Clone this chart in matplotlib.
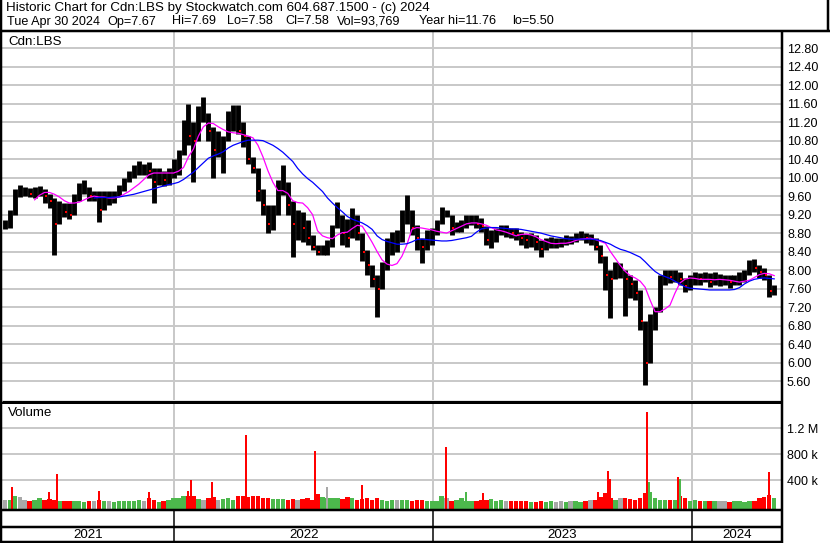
import matplotlib
matplotlib.use("Agg")
import matplotlib.pyplot as plt
from matplotlib.lines import Line2D
import numpy as np
import pandas as pd

plt.rcParams["font.family"] = ["Liberation Sans", "DejaVu Sans"]

W, H = 830, 543

# weekly bars (Fridays)
weeks = pd.date_range("2021-05-07", periods=156, freq="W-FRI")

high = [9.08, 9.30, 9.75, 9.84, 9.80, 9.78, 9.80, 9.82, 9.73, 9.65,
        9.55, 9.50, 9.45, 9.45, 9.65, 9.88, 9.95, 9.72, 9.70, 9.70,
        9.70, 9.70, 9.72, 9.85, 10.00, 10.15, 10.27, 10.36, 10.30, 10.33,
        10.20, 10.20, 10.15, 10.20, 10.40, 10.60, 11.25, 11.60, 11.20, 11.55,
        11.74, 11.40, 11.10, 11.00, 10.90, 11.45, 11.57, 11.57, 11.20, 10.80,
        10.45, 10.15, 9.75, 9.30, 9.40, 9.95, 10.27, 9.80, 9.50, 9.30,
        9.25, 9.08, 8.75, 8.55, 8.55, 8.65, 8.97, 9.47, 9.20, 9.10,
        9.35, 9.10, 8.76, 8.43, 8.10, 7.90, 8.17, 8.70, 8.82, 8.87,
        9.30, 9.62, 9.30, 8.97, 8.70, 8.87, 8.90, 9.08, 9.36, 9.30,
        9.08, 9.05, 9.08, 9.19, 9.19, 9.20, 9.12, 8.90, 8.87, 8.90,
        8.97, 8.97, 8.90, 8.90, 8.83, 8.78, 8.80, 8.76, 8.65, 8.70,
        8.72, 8.70, 8.70, 8.76, 8.74, 8.80, 8.84, 8.80, 8.78, 8.65,
        8.54, 8.28, 8.00, 8.17, 8.15, 8.00, 7.90, 7.78, 7.57, 6.90,
        7.05, 7.20, 7.90, 8.00, 8.00, 8.00, 7.95, 7.83, 7.89, 7.95,
        7.93, 7.95, 7.93, 7.95, 7.91, 7.89, 7.89, 7.89, 7.95, 8.00,
        8.22, 8.25, 8.10, 8.05, 7.89, 7.68]
low = [8.88, 8.90, 9.20, 9.58, 9.60, 9.58, 9.55, 9.60, 9.45, 9.35,
       8.33, 9.15, 9.15, 9.10, 9.35, 9.50, 9.65, 9.50, 9.50, 9.04,
       9.30, 9.40, 9.45, 9.60, 9.72, 9.90, 10.00, 10.05, 10.05, 10.00,
       9.45, 9.85, 9.82, 9.85, 10.00, 10.05, 10.60, 10.70, 9.90, 11.00,
       11.20, 10.80, 10.00, 10.45, 10.10, 10.90, 11.00, 10.95, 10.66, 10.30,
       10.10, 9.50, 9.20, 8.80, 8.87, 9.30, 9.62, 9.20, 8.28, 8.65,
       8.60, 8.55, 8.43, 8.32, 8.32, 8.32, 8.54, 8.90, 8.55, 8.50,
       8.85, 8.65, 8.20, 7.90, 7.63, 6.98, 7.68, 8.10, 8.32, 8.40,
       8.65, 9.00, 8.75, 8.43, 8.15, 8.43, 8.54, 8.76, 9.08, 9.15,
       8.76, 8.82, 8.82, 8.90, 8.97, 8.90, 8.82, 8.54, 8.47, 8.60,
       8.76, 8.72, 8.70, 8.65, 8.54, 8.47, 8.50, 8.43, 8.28, 8.43,
       8.47, 8.47, 8.50, 8.54, 8.56, 8.60, 8.65, 8.58, 8.54, 8.43,
       8.15, 7.57, 6.96, 7.85, 7.83, 7.00, 7.40, 7.35, 6.70, 5.51,
       6.40, 6.70, 7.14, 7.68, 7.72, 7.74, 7.68, 7.53, 7.57, 7.68,
       7.68, 7.74, 7.63, 7.68, 7.65, 7.68, 7.61, 7.68, 7.68, 7.74,
       7.89, 7.95, 7.83, 7.78, 7.42, 7.46]
close = [9.00, 9.25, 9.70, 9.70, 9.70, 9.65, 9.70, 9.75, 9.60, 9.50,
         9.00, 9.40, 9.25, 9.20, 9.55, 9.75, 9.80, 9.60, 9.60, 9.30,
         9.55, 9.55, 9.60, 9.80, 9.90, 10.05, 10.10, 10.20, 10.20, 10.15,
         9.90, 10.05, 9.95, 10.00, 10.25, 10.50, 11.10, 10.90, 10.80, 11.40,
         11.40, 11.00, 10.60, 10.60, 10.80, 11.20, 11.30, 11.00, 10.90, 10.40,
         10.20, 9.70, 9.40, 9.00, 9.20, 9.80, 9.90, 9.40, 9.00, 9.00,
         8.90, 8.70, 8.50, 8.40, 8.45, 8.50, 8.90, 9.10, 8.80, 8.70,
         9.20, 8.80, 8.40, 8.10, 7.80, 7.60, 8.00, 8.50, 8.60, 8.60,
         9.10, 9.30, 8.90, 8.70, 8.50, 8.70, 8.80, 9.00, 9.20, 9.20,
         8.90, 8.95, 9.00, 9.05, 9.10, 9.00, 8.95, 8.65, 8.70, 8.80,
         8.85, 8.85, 8.80, 8.75, 8.70, 8.65, 8.70, 8.60, 8.45, 8.55,
         8.60, 8.60, 8.60, 8.65, 8.65, 8.75, 8.80, 8.70, 8.70, 8.50,
         8.30, 7.90, 7.80, 8.00, 8.00, 7.80, 7.70, 7.50, 6.90, 6.00,
         6.90, 7.10, 7.70, 7.90, 7.85, 7.90, 7.80, 7.65, 7.70, 7.85,
         7.80, 7.85, 7.75, 7.80, 7.80, 7.80, 7.75, 7.80, 7.85, 7.90,
         8.10, 8.05, 7.95, 7.90, 7.55, 7.58]

nan = np.nan
ma_fast = [nan] * 6 + [
    9.52, 9.62, 9.68, 9.68, 9.64, 9.58, 9.50, 9.45, 9.45, 9.47,
    9.52, 9.57, 9.60, 9.58, 9.58, 9.56, 9.56, 9.58, 9.64, 9.70,
    9.78, 9.86, 9.96, 10.06, 10.10, 10.10, 10.10, 10.10, 10.10, 10.14,
    10.22, 10.45, 10.62, 10.90, 11.10, 11.18, 11.17, 11.10, 11.04, 10.99,
    10.97, 10.96, 10.93, 10.90, 10.86, 10.70, 10.45, 10.15, 9.90, 9.72,
    9.72, 9.66, 9.50, 9.46, 9.45, 9.35, 9.20, 8.85, 8.74, 8.70,
    8.68, 8.76, 8.81, 8.82, 8.90, 8.97, 8.95, 8.78, 8.60, 8.40,
    8.22, 8.13, 8.10, 8.14, 8.30, 8.55, 8.88, 8.92, 8.91, 8.89,
    8.87, 8.84, 8.82, 8.80, 8.85, 8.90, 8.95, 9.00, 9.02, 9.02,
    9.00, 8.97, 8.92, 8.87, 8.85, 8.82, 8.78, 8.74, 8.77, 8.78,
    8.76, 8.72, 8.66, 8.62, 8.58, 8.57, 8.58, 8.58, 8.60, 8.64,
    8.67, 8.68, 8.69, 8.66, 8.62, 8.58, 8.40, 8.25, 8.10, 7.97,
    7.88, 7.83, 7.76, 7.63, 7.35, 7.10, 7.10, 7.16, 7.24, 7.50,
    7.72, 7.80, 7.83, 7.82, 7.80, 7.80, 7.80, 7.79, 7.80, 7.79,
    7.78, 7.76, 7.74, 7.76, 7.78, 7.84, 7.90, 7.93, 7.92, 7.88]
ma_slow = [nan] * 18 + [
    9.56, 9.57, 9.57, 9.57, 9.58, 9.58, 9.60, 9.62, 9.64, 9.67,
    9.70, 9.73, 9.76, 9.79, 9.82, 9.85, 9.87, 9.90, 9.96, 10.04,
    10.12, 10.22, 10.32, 10.42, 10.47, 10.51, 10.56, 10.64, 10.70, 10.74,
    10.78, 10.81, 10.81, 10.81, 10.80, 10.75, 10.70, 10.63, 10.55, 10.45,
    10.35, 10.20, 10.08, 9.98, 9.90, 9.80, 9.70, 9.56, 9.45, 9.35,
    9.26, 9.16, 9.10, 9.06, 9.02, 8.96, 8.88, 8.74, 8.66, 8.62,
    8.59, 8.56, 8.56, 8.57, 8.61, 8.66, 8.67, 8.66, 8.65, 8.64,
    8.63, 8.63, 8.64, 8.66, 8.68, 8.70, 8.73, 8.82, 8.89, 8.91,
    8.92, 8.92, 8.91, 8.90, 8.89, 8.89, 8.88, 8.86, 8.84, 8.82,
    8.80, 8.77, 8.74, 8.72, 8.70, 8.68, 8.67, 8.67, 8.67, 8.67,
    8.67, 8.66, 8.64, 8.60, 8.56, 8.50, 8.45, 8.42, 8.38, 8.33,
    8.28, 8.18, 8.07, 7.97, 7.90, 7.86, 7.82, 7.76, 7.70, 7.64,
    7.61, 7.60, 7.59, 7.58, 7.57, 7.57, 7.57, 7.57, 7.57, 7.58,
    7.62, 7.70, 7.76, 7.80, 7.82, 7.83, 7.82, 7.81]

# typical daily volume per week (shares)
volume = np.array([
    90, 100, 160, 140, 90, 80, 100, 120, 90, 110,
    100, 70, 80, 70, 70, 80, 60, 80, 70, 100,
    80, 70, 60, 80, 70, 80, 70, 90, 80, 120,
    90, 60, 80, 90, 120, 130, 150, 150, 160, 110,
    100, 130, 140, 100, 110, 120, 100, 160, 150, 140,
    160, 150, 130, 120, 110, 110, 110, 100, 110, 100,
    110, 130, 100, 180, 140, 130, 120, 120, 110, 140,
    120, 100, 110, 130, 100, 120, 100, 80, 90, 90,
    90, 100, 80, 100, 90, 80, 70, 80, 150, 120,
    80, 90, 130, 80, 70, 80, 100, 90, 110, 80,
    90, 70, 80, 70, 80, 70, 60, 60, 70, 60,
    70, 60, 70, 60, 70, 70, 60, 70, 100, 90,
    140, 200, 120, 100, 120, 130, 110, 90, 120, 200,
    220, 120, 100, 90, 100, 100, 160, 130, 80, 90,
    80, 80, 70, 70, 70, 80, 60, 70, 70, 60,
    80, 80, 130, 140, 170, 120]) * 1000

# single-day volume spikes
spike_dates = pd.to_datetime([
    "2021-05-17", "2021-07-08", "2021-07-19", "2021-09-17", "2021-11-26",
    "2022-01-20", "2022-01-24", "2022-02-23", "2022-04-12", "2022-07-19",
    "2022-08-05", "2022-09-23", "2023-01-19", "2023-02-16", "2023-03-13",
    "2023-08-22", "2023-09-05", "2023-09-07", "2023-10-30", "2023-11-02",
    "2023-12-12", "2023-12-15", "2024-04-19"])
spike_vols = np.array([
    290, 215, 490, 230, 215,
    230, 400, 370, 1090, 846,
    300, 320, 910, 215, 200,
    215, 540, 420, 1450, 370,
    450, 420, 520]) * 1000
spike_dirs = ["d", "d", "d", "d", "d",
              "d", "d", "d", "d", "d",
              "n", "d", "d", "u", "d",
              "d", "d", "d", "d", "u",
              "d", "u", "d"]

price_ticks = np.arange(5.6, 12.81, 0.4)
vol_ticks = [400000, 800000, 1200000]
vol_labels = ["400 k", "800 k", "1.2 M"]
years = ["2021", "2022", "2023", "2024"]
year_starts = pd.to_datetime(["2022-01-01", "2023-01-01", "2024-01-01"])

title_line = "Historic Chart for Cdn:LBS by Stockwatch.com 604.687.1500 - (c) 2024"
quote_items = ["Tue Apr 30 2024", "Op=7.67", "Hi=7.69", "Lo=7.58", "Cl=7.58",
               "Vol=93,769", "Year hi=11.76", "lo=5.50"]
quote_x = [7, 107, 172, 227, 285, 337, 419, 512]

RED = "#ff0000"
GREEN = "#4cb84c"
GREY = "#a8a8a8"
GRID = "#c8c8c8"
FS = 9
HFS = 9.6

x0 = pd.Timestamp("2021-05-03")
x1 = pd.Timestamp("2024-05-07")


def box(top, bottom, left=2, right=782):
    return [left / W, 1 - bottom / H, (right - left) / W, (bottom - top) / H]


def pline(fig, xs, ys, lw=2.0, color="black"):
    fig.add_artist(Line2D([x / W for x in xs], [1 - y / H for y in ys],
                          transform=fig.transFigure, color=color,
                          linewidth=lw * 0.72, solid_capstyle="butt"))


fig = plt.figure(figsize=(W / 100, H / 100), dpi=100)

# price panel
ax = fig.add_axes(box(32, 400))
ax.set_xlim(x0, x1)
ax.set_ylim(5.19, 13.15)
for t in price_ticks:
    ax.axhline(t, color=GRID, linewidth=1.4, zorder=0)
for d in year_starts:
    ax.axvline(d, color=GRID, linewidth=1.4, zorder=0)

close_arr = np.array(close)
prev_close = np.r_[close_arr[0], close_arr[:-1]]
bar_lo = np.minimum(low, prev_close)
bar_hi = np.maximum(high, prev_close)
ax.vlines(weeks, bar_lo, bar_hi, color="black", linewidth=3.5, zorder=2)
down = close_arr < prev_close
ax.plot(weeks[down] + pd.Timedelta(days=2), close_arr[down], "s",
        color=RED, markersize=2.0, markeredgewidth=0, zorder=3)
ax.plot(weeks, ma_fast, color="#ff00ff", linewidth=0.9, zorder=4)
ax.plot(weeks, ma_slow, color="#0000ff", linewidth=0.9, zorder=4)
ax.set_yticks(price_ticks)
ax.set_yticklabels([f"{t:.2f}" for t in price_ticks])
ax.yaxis.tick_right()
ax.tick_params(axis="y", length=0, pad=3.6, labelsize=FS)
ax.set_xticks([])
for s in ax.spines.values():
    s.set_visible(False)
ax.text(6 / 780, 1 - 10 / 368, "Cdn:LBS", transform=ax.transAxes,
        fontsize=HFS, va="center", ha="left")

# volume panel
VOL_FLOOR = -46000
axv = fig.add_axes(box(402, 509))
axv.set_xlim(x0, x1)
axv.set_ylim(VOL_FLOOR, 1600000)
for t in vol_ticks:
    axv.axhline(t, color=GRID, linewidth=1.4, zorder=0)
for d in year_starts:
    axv.axvline(d, color=GRID, linewidth=1.4, zorder=0)
wk_colors = [GREY] + [RED if c < p else (GREEN if c > p else GREY)
                      for p, c in zip(close[:-1], close[1:])]
axv.bar(weeks, volume - VOL_FLOOR, bottom=VOL_FLOOR, width=6.2,
        color=wk_colors, zorder=2)
sp_colors = [{"d": RED, "u": GREEN, "n": GREY}[s] for s in spike_dirs]
axv.bar(spike_dates, spike_vols - VOL_FLOOR, bottom=VOL_FLOOR, width=2.8,
        color=sp_colors, zorder=3)
axv.set_yticks(vol_ticks)
axv.set_yticklabels(vol_labels)
axv.yaxis.tick_right()
axv.tick_params(axis="y", length=0, pad=3.6, labelsize=FS)
axv.set_xticks([])
for s in axv.spines.values():
    s.set_visible(False)
axv.text(6 / 780, 1 - 11 / 107, "Volume", transform=axv.transAxes,
         fontsize=HFS, va="center", ha="left")

# year strip
axy = fig.add_axes(box(527, 541))
axy.set_xlim(x0, x1)
axy.set_ylim(0, 1)
axy.axis("off")
edges = [x0] + list(year_starts) + [x1]
for lab, a, b in zip(years, edges[:-1], edges[1:]):
    axy.text(a + (b - a) / 2, 0.45, lab, ha="center", va="center", fontsize=HFS)

# header text
fig.text(6 / W, 1 - 8 / H, title_line, fontsize=HFS, va="center", ha="left")
for item, xp in zip(quote_items, quote_x):
    fig.text(xp / W, 1 - 21.5 / H, item, fontsize=9.1, va="center", ha="left")

# frame lines (pixel coords)
pline(fig, [0, 830], [31, 31], lw=2.5)
pline(fig, [828, 828], [0, 31], lw=2.5)
pline(fig, [1, 1], [0, 543], lw=2.5)
pline(fig, [782, 782], [31, 543], lw=2.5)
pline(fig, [2, 782], [400.5, 400.5], lw=1.2)
pline(fig, [2, 782], [402.5, 402.5], lw=2.0)
pline(fig, [0, 782], [509.5, 509.5], lw=2.5)
pline(fig, [0, 782], [527, 527], lw=2.5)
pline(fig, [0, 782], [541.5, 541.5], lw=2.5)
for xp in (174, 433, 692):
    pline(fig, [xp, xp], [509, 541], lw=1.5)

fig.savefig("out.png", dpi=100)
